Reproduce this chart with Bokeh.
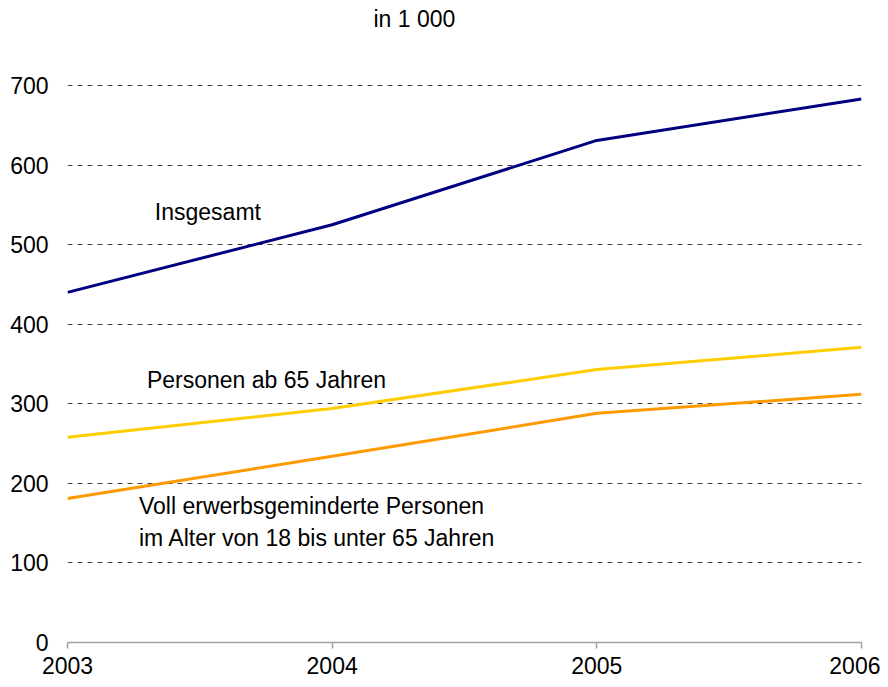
from bokeh.plotting import figure
from bokeh.models import Range1d, FixedTicker, Label, LinearAxis
from bokeh.embed import file_html
from bokeh.resources import INLINE

years = [2003, 2004, 2005, 2006]
insgesamt = [440, 525, 631, 683]
ab65 = [258, 294, 343, 371]
voll = [181, 234, 288, 312]
y_ticks = [0, 100, 200, 300, 400, 500, 600, 700]
grid_ticks = [100, 200, 300, 400, 500, 600, 700]

FONT = "Liberation Sans"
FS = "23px"

p = figure(width=880, height=679, output_backend="svg", toolbar_location=None,
           x_range=Range1d(2003, 2006), y_range=Range1d(0, 801.8),
           min_border_left=67, min_border_right=19, min_border_top=4, min_border_bottom=37,
           x_axis_location=None, y_axis_location=None)
p.outline_line_color = None
p.background_fill_color = "white"
p.title.visible = False

xaxis = LinearAxis(ticker=FixedTicker(ticks=years))
xaxis.axis_line_color = "#a0a0a0"
xaxis.axis_line_width = 1.5
xaxis.major_tick_line_color = "#a0a0a0"
xaxis.major_tick_line_width = 1.5
xaxis.major_tick_in = 0
xaxis.major_tick_out = 6
xaxis.minor_tick_line_color = None
xaxis.major_label_text_font = FONT
xaxis.major_label_text_font_size = FS
xaxis.major_label_text_color = "black"
xaxis.major_label_standoff = 8
p.add_layout(xaxis, "below")

yaxis = LinearAxis(ticker=FixedTicker(ticks=y_ticks))
yaxis.axis_line_color = None
yaxis.major_tick_line_color = None
yaxis.minor_tick_line_color = None
yaxis.major_label_text_font = FONT
yaxis.major_label_text_font_size = FS
yaxis.major_label_text_color = "black"
yaxis.major_label_standoff = 13
p.add_layout(yaxis, "left")

p.xgrid.visible = False
p.ygrid.ticker = FixedTicker(ticks=grid_ticks)
p.ygrid.grid_line_color = "#404040"
p.ygrid.grid_line_dash = "5 5"
p.ygrid.grid_line_width = 1

p.line(years, insgesamt, line_color="#000080", line_width=3)
p.line(years, ab65, line_color="#FFCC00", line_width=3)
p.line(years, voll, line_color="#FF9900", line_width=3)

def lab(x, y, t):
    p.add_layout(Label(x=x, y=y, text=t, text_font=FONT, text_font_size=FS,
                       text_color="black", text_baseline="middle", text_align="left"))

lab(2003.33, 541, "Insgesamt")
lab(2003.30, 330, "Personen ab 65 Jahren")
lab(2003.27, 171, "Voll erwerbsgeminderte Personen")
lab(2003.27, 131, "im Alter von 18 bis unter 65 Jahren")
lab(2004.156, 784, "in 1 000")

open("out.html", "w").write(file_html(p, INLINE))
